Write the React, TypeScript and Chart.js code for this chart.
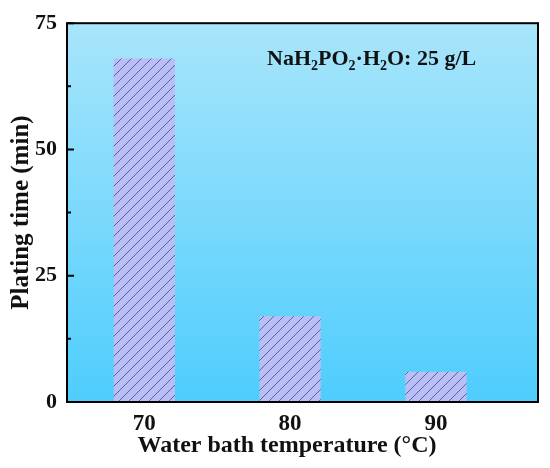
import { Chart, registerables, Plugin } from "chart.js";
import { useEffect, useRef } from "react";

Chart.register(...registerables);

const temperatures = [70, 80, 90];
const platingTimes = [68, 17, 6];
const yTickValues = [0, 25, 50, 75];
const yMinorValues = [12.5, 37.5, 62.5];
const xTitle = "Water bath temperature (°C)";
const noteParts: [string, boolean][] = [
  ["NaH", false],
  ["2", true],
  ["PO", false],
  ["2", true],
  ["·H", false],
  ["2", true],
  ["O: 25 g/L", false],
];

const FONT = "'Liberation Serif', 'Times New Roman', serif";

function makeHatch(): CanvasPattern | string {
  const s = 10;
  const c = document.createElement("canvas");
  c.width = s;
  c.height = s;
  const g = c.getContext("2d");
  if (!g) return "#b9bff4";
  g.fillStyle = "#b9bff4";
  g.fillRect(0, 0, s, s);
  g.strokeStyle = "#5a60a6";
  g.lineWidth = 1;
  g.beginPath();
  g.moveTo(0, s);
  g.lineTo(s, 0);
  g.moveTo(-2, 2);
  g.lineTo(2, -2);
  g.moveTo(s - 2, s + 2);
  g.lineTo(s + 2, s - 2);
  g.stroke();
  return g.createPattern(c, "repeat") || "#b9bff4";
}

// gradient background behind the plot
const backdrop: Plugin<"bar"> = {
  id: "backdrop",
  beforeDatasetsDraw(chart) {
    const { ctx, chartArea: a } = chart;
    const grad = ctx.createLinearGradient(0, a.top, 0, a.bottom);
    grad.addColorStop(0, "#a8e5fb");
    grad.addColorStop(1, "#4ecdfd");
    ctx.save();
    ctx.fillStyle = grad;
    ctx.fillRect(a.left, a.top, a.right - a.left, a.bottom - a.top);
    ctx.restore();
  },
};

// frame, inward ticks, x title and the note
const frame: Plugin<"bar"> = {
  id: "frame",
  afterDraw(chart) {
    const { ctx, chartArea: a } = chart;
    const y = chart.scales.y;
    ctx.save();
    ctx.strokeStyle = "#000";
    ctx.lineWidth = 2;
    ctx.strokeRect(a.left, a.top, a.right - a.left, a.bottom - a.top);
    ctx.beginPath();
    yTickValues.forEach((v) => {
      const py = y.getPixelForValue(v);
      ctx.moveTo(a.left, py);
      ctx.lineTo(a.left + 7, py);
    });
    yMinorValues.forEach((v) => {
      const py = y.getPixelForValue(v);
      ctx.moveTo(a.left, py);
      ctx.lineTo(a.left + 4, py);
    });
    ctx.stroke();

    ctx.fillStyle = "#111";
    ctx.textAlign = "center";
    ctx.textBaseline = "middle";
    ctx.font = `bold 24px ${FONT}`;
    ctx.fillText(xTitle, 287, 446);

    ctx.textAlign = "left";
    ctx.textBaseline = "alphabetic";
    let x = 267;
    const base = 65;
    noteParts.forEach(([t, sub]) => {
      ctx.font = sub ? `bold 14px ${FONT}` : `bold 22px ${FONT}`;
      ctx.fillText(t, x, sub ? base + 5 : base);
      x += ctx.measureText(t).width;
    });
    ctx.restore();
  },
};

export default function App() {
  const canvasRef = useRef<HTMLCanvasElement | null>(null);
  const chartRef = useRef<Chart<"bar"> | null>(null);

  useEffect(() => {
    if (!canvasRef.current) return;
    const ctx = canvasRef.current.getContext("2d");
    if (!ctx) return;
    if (chartRef.current) chartRef.current.destroy();

    chartRef.current = new Chart(ctx, {
      type: "bar",
      data: {
        datasets: [
          {
            data: temperatures.map((t, i) => ({ x: t, y: platingTimes[i] })),
            backgroundColor: makeHatch(),
            borderWidth: 0,
            categoryPercentage: 0.42,
            barPercentage: 1,
          },
        ],
      },
      options: {
        responsive: false,
        animation: false,
        layout: { padding: { top: 22, right: 12, left: 0, bottom: 0 } },
        plugins: { legend: { display: false }, tooltip: { enabled: false } },
        scales: {
          x: {
            type: "linear",
            offset: false,
            min: 64.7,
            max: 97,
            afterBuildTicks: (s) => {
              s.ticks = temperatures.map((v) => ({ value: v }));
            },
            afterFit: (s) => {
              s.height = 66;
            },
            grid: { display: false, drawTicks: false },
            border: { display: false },
            ticks: {
              color: "#111",
              padding: 8,
              font: { family: FONT, size: 23, weight: "bold" },
            },
          },
          y: {
            min: 0,
            max: 75,
            afterBuildTicks: (s) => {
              s.ticks = yTickValues.map((v) => ({ value: v }));
            },
            afterFit: (s) => {
              s.width = 67;
            },
            grid: { display: false, drawTicks: false },
            border: { display: false },
            ticks: {
              color: "#111",
              padding: 10,
              font: { family: FONT, size: 22, weight: "bold" },
            },
            title: {
              display: true,
              text: "Plating time (min)",
              color: "#111",
              padding: { top: 7, bottom: 0 },
              font: { family: FONT, size: 25, weight: "bold" },
            },
          },
        },
      },
      plugins: [backdrop, frame],
    });

    return () => {
      if (chartRef.current) {
        chartRef.current.destroy();
        chartRef.current = null;
      }
    };
  }, []);

  return (
    <div style={{ position: "absolute", left: 0, top: 0, width: 550, height: 468, background: "#fff" }}>
      <canvas ref={canvasRef} width={550} height={468} style={{ width: 550, height: 468 }} />
    </div>
  );
}
